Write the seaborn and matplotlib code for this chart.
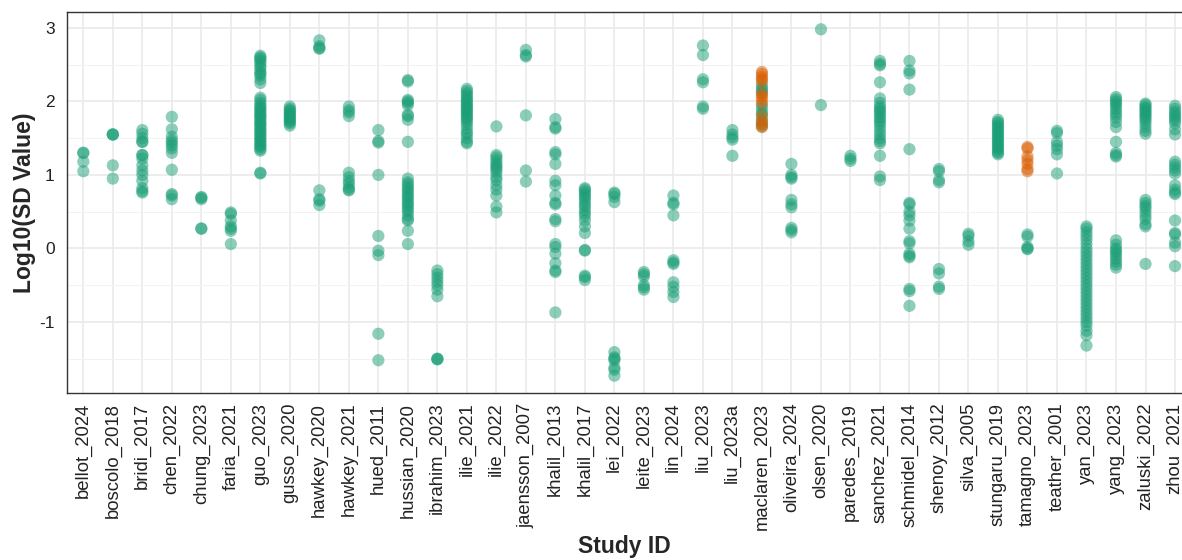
import matplotlib
matplotlib.use("Agg")
import matplotlib.pyplot as plt
import numpy as np
import pandas as pd
import seaborn as sns

# log10(SD) values, one list per study
bellot_2024 = [1.30, 1.30, 1.18, 1.05]
boscolo_2018 = [1.55, 1.55, 1.55, 1.13, 0.95]
bridi_2017 = [1.61, 1.56, 1.50, 1.45, 1.45, 1.27, 1.27, 1.22, 1.13, 1.06, 1.00, 0.92, 0.82, 0.78, 0.76]
chen_2022 = [1.79, 1.62, 1.52, 1.47, 1.44, 1.40, 1.36, 1.30, 1.07, 0.74, 0.72, 0.67]
chung_2023 = [0.70, 0.69, 0.67, 0.27, 0.27]
faria_2021 = [0.49, 0.47, 0.38, 0.30, 0.27, 0.24, 0.06]
guo_2023 = [2.62, 2.60, 2.58, 2.55, 2.52, 2.48, 2.45, 2.40, 2.38, 2.35, 2.30, 2.25,
            2.05, 2.02, 1.98, 1.95, 1.92, 1.90, 1.87, 1.85, 1.82, 1.80, 1.78, 1.75,
            1.72, 1.70, 1.68, 1.65, 1.62, 1.60, 1.57, 1.55, 1.52, 1.50, 1.47, 1.45,
            1.42, 1.40, 1.38, 1.35, 1.33, 1.03, 1.02]
gusso_2020 = [1.93, 1.90, 1.88, 1.86, 1.84, 1.82, 1.80, 1.78, 1.76, 1.74, 1.72, 1.70, 1.67]
hawkey_2020 = [2.83, 2.75, 2.72, 2.72, 0.79, 0.67, 0.65, 0.59]
hawkey_2021 = [1.93, 1.88, 1.85, 1.80, 1.03, 0.97, 0.92, 0.88, 0.83, 0.80, 0.79]
hued_2011 = [1.61, 1.46, 1.44, 1.00, 0.17, -0.03, -0.09, -1.16, -1.52]
hussian_2020 = [2.29, 2.27, 2.02, 2.00, 1.98, 1.95, 1.82, 1.80, 1.75, 1.45, 0.95, 0.90,
                0.87, 0.83, 0.80, 0.77, 0.73, 0.70, 0.67, 0.63, 0.60, 0.57, 0.53, 0.50,
                0.45, 0.40, 0.38, 0.24, 0.06]
ibrahim_2023 = [-0.30, -0.35, -0.40, -0.45, -0.50, -0.56, -0.65, -1.50, -1.50, -1.51]
ilie_2021 = [2.17, 2.14, 2.11, 2.08, 2.05, 2.02, 2.00, 1.97, 1.95, 1.92, 1.90, 1.88,
             1.85, 1.83, 1.80, 1.78, 1.75, 1.72, 1.68, 1.63, 1.58, 1.55, 1.50, 1.45, 1.43]
ilie_2022 = [1.66, 1.27, 1.24, 1.20, 1.16, 1.13, 1.10, 1.07, 1.03, 0.97, 0.93, 0.86,
             0.80, 0.72, 0.57, 0.49]
jaensson_2007 = [2.70, 2.63, 2.61, 1.81, 1.06, 0.91]
khalil_2013 = [1.76, 1.65, 1.63, 1.31, 1.28, 1.15, 0.92, 0.86, 0.72, 0.62, 0.60, 0.40,
               0.37, 0.06, 0.02, -0.07, -0.20, -0.30, -0.32, -0.87]
khalil_2017 = [0.82, 0.80, 0.77, 0.74, 0.71, 0.68, 0.64, 0.60, 0.57, 0.52, 0.48, 0.44,
               0.38, 0.30, 0.21, -0.02, -0.03, -0.37, -0.39, -0.43]
lei_2022 = [0.76, 0.74, 0.70, 0.63, -1.41, -1.48, -1.50, -1.52, -1.62, -1.65, -1.73]
leite_2023 = [-0.32, -0.35, -0.38, -0.50, -0.53, -0.56]
lin_2024 = [0.72, 0.62, 0.60, 0.45, -0.16, -0.19, -0.21, -0.46, -0.52, -0.59, -0.66]
liu_2023 = [2.76, 2.63, 2.30, 2.26, 1.93, 1.90]
liu_2023a = [1.61, 1.55, 1.51, 1.48, 1.26]
maclaren_2023 = [2.22, 2.18, 2.15, 2.12, 1.95, 1.90, 1.85, 1.82, 1.75, 1.70, 1.66]
maclaren_2023_flag = [2.40, 2.37, 2.33, 2.30, 2.27, 2.10, 2.07, 2.03, 1.98, 1.80, 1.73, 1.68, 1.65]
oliveira_2024 = [1.15, 1.00, 0.97, 0.95, 0.66, 0.60, 0.56, 0.28, 0.25, 0.22]
olsen_2020 = [2.98, 1.95]
paredes_2019 = [1.26, 1.22, 1.19]
sanchez_2021 = [2.55, 2.51, 2.49, 2.26, 2.04, 1.98, 1.93, 1.90, 1.87, 1.84, 1.80, 1.77,
                1.73, 1.70, 1.65, 1.60, 1.55, 1.50, 1.46, 1.43, 1.26, 0.98, 0.93]
schmidel_2014 = [2.55, 2.42, 2.38, 2.16, 1.35, 0.62, 0.60, 0.50, 0.45, 0.38, 0.27, 0.10,
                 0.07, -0.07, -0.10, -0.12, -0.55, -0.58, -0.78]
shenoy_2012 = [1.08, 1.05, 0.93, 0.90, -0.28, -0.34, -0.52, -0.55]
silva_2005 = [0.20, 0.17, 0.10, 0.05]
stungaru_2019 = [1.75, 1.72, 1.70, 1.67, 1.65, 1.62, 1.60, 1.57, 1.55, 1.52, 1.50, 1.47,
                 1.45, 1.42, 1.40, 1.37, 1.35, 1.32, 1.30, 1.28]
tamagno_2023 = [0.19, 0.16, 0.02, 0.00, -0.01]
tamagno_2023_flag = [1.38, 1.36, 1.25, 1.20, 1.15, 1.08, 1.05]
teather_2001 = [1.60, 1.57, 1.45, 1.40, 1.35, 1.28, 1.02]
yan_2023 = [0.30, 0.27, 0.22, 0.17, 0.12, 0.06, 0.00, -0.05, -0.10, -0.15, -0.20, -0.25,
            -0.30, -0.35, -0.40, -0.45, -0.50, -0.55, -0.60, -0.65, -0.70, -0.75, -0.80,
            -0.85, -0.90, -0.95, -1.00, -1.05, -1.12, -1.18, -1.32]
yang_2023 = [2.06, 2.03, 2.00, 1.97, 1.94, 1.90, 1.86, 1.82, 1.78, 1.72, 1.65, 1.45,
             1.30, 1.27, 1.25, 0.11, 0.05, 0.00, -0.03, -0.06, -0.10, -0.14, -0.18,
             -0.22, -0.26]
zaluski_2022 = [1.97, 1.95, 1.92, 1.90, 1.87, 1.85, 1.82, 1.80, 1.77, 1.74, 1.70, 1.65,
                1.60, 1.56, 0.66, 0.62, 0.58, 0.55, 0.50, 0.45, 0.40, 0.33, 0.30, -0.21]
zhou_2021 = [1.94, 1.90, 1.86, 1.83, 1.80, 1.77, 1.74, 1.70, 1.62, 1.55, 1.18, 1.14,
             1.10, 1.06, 1.02, 0.86, 0.80, 0.76, 0.74, 0.38, 0.21, 0.19, 0.08, 0.03, -0.24]

study_ids = ["bellot_2024", "boscolo_2018", "bridi_2017", "chen_2022", "chung_2023",
             "faria_2021", "guo_2023", "gusso_2020", "hawkey_2020", "hawkey_2021",
             "hued_2011", "hussian_2020", "ibrahim_2023", "ilie_2021", "ilie_2022",
             "jaensson_2007", "khalil_2013", "khalil_2017", "lei_2022", "leite_2023",
             "lin_2024", "liu_2023", "liu_2023a", "maclaren_2023", "oliveira_2024",
             "olsen_2020", "paredes_2019", "sanchez_2021", "schmidel_2014", "shenoy_2012",
             "silva_2005", "stungaru_2019", "tamagno_2023", "teather_2001", "yan_2023",
             "yang_2023", "zaluski_2022", "zhou_2021"]
flagged = {"maclaren_2023": maclaren_2023_flag, "tamagno_2023": tamagno_2023_flag}

GREEN = "#1B9E77"
ORANGE = "#D95F02"


def get_df() -> pd.DataFrame:
    rows = []
    for sid in study_ids:
        for v in globals()[sid]:
            rows.append([sid, v, "no"])
        for v in flagged.get(sid, []):
            rows.append([sid, v, "yes"])
    return pd.DataFrame(rows, columns=["study", "log_sd", "flag"])


def main() -> None:
    df = get_df()
    sns.set_style("white")
    plt.rcParams["font.family"] = ["Liberation Sans", "DejaVu Sans"]

    fig = plt.figure(figsize=(11.82, 5.6), dpi=100)
    ax = fig.add_axes([67 / 1182, 1 - 393 / 560, 1115 / 1182, 381 / 560])
    sns.stripplot(data=df, x="study", y="log_sd", hue="flag", order=study_ids,
                  hue_order=["no", "yes"], palette=[GREEN, ORANGE], jitter=False,
                  size=8.8, alpha=0.5, linewidth=0, legend=False, ax=ax, zorder=3)

    # ggplot-like 5% expansion on the continuous axis
    lo, hi = df.log_sd.min(), df.log_sd.max()
    pad = (hi - lo) * 0.05
    ax.set_ylim(lo - pad, hi + pad)
    ax.set_xlim(-0.553, len(study_ids) - 1 + 0.237)

    ax.set_yticks([-1, 0, 1, 2, 3])
    ax.set_yticks([-1.5, -0.5, 0.5, 1.5, 2.5], minor=True)
    ax.grid(True, which="major", color="#EAEAEA", linewidth=1.2, zorder=0)
    ax.grid(True, which="minor", axis="y", color="#F2F2F2", linewidth=0.7, zorder=0)
    ax.set_axisbelow(True)
    for side in ["top", "left", "bottom"]:
        ax.spines[side].set_color("#333333")
        ax.spines[side].set_linewidth(1.0)
    ax.spines["right"].set_visible(False)

    ax.tick_params(axis="both", which="major", direction="out", length=4, width=1,
                   color="#333333", labelcolor="#222222")
    ax.tick_params(axis="y", which="major", labelsize=12.5, pad=5)
    ax.tick_params(axis="x", which="major", labelsize=13.3, pad=3)
    ax.tick_params(which="minor", length=0)
    ax.set_yticklabels(["-1", "0", "1", "2", "3"])
    plt.setp(ax.get_xticklabels(), rotation=90, ha="center", va="top")

    ax.set_xlabel("Study ID", fontsize=16.5, fontweight="bold", va="center")
    ax.xaxis.set_label_coords(0.5, (393 - 547) / 381)
    ax.set_ylabel("Log10(SD Value)", fontsize=16.5, fontweight="bold", va="center")
    ax.yaxis.set_label_coords((25 - 67) / 1115, 0.5)

    fig.savefig("out.png", dpi=100)


if __name__ == "__main__":
    main()
